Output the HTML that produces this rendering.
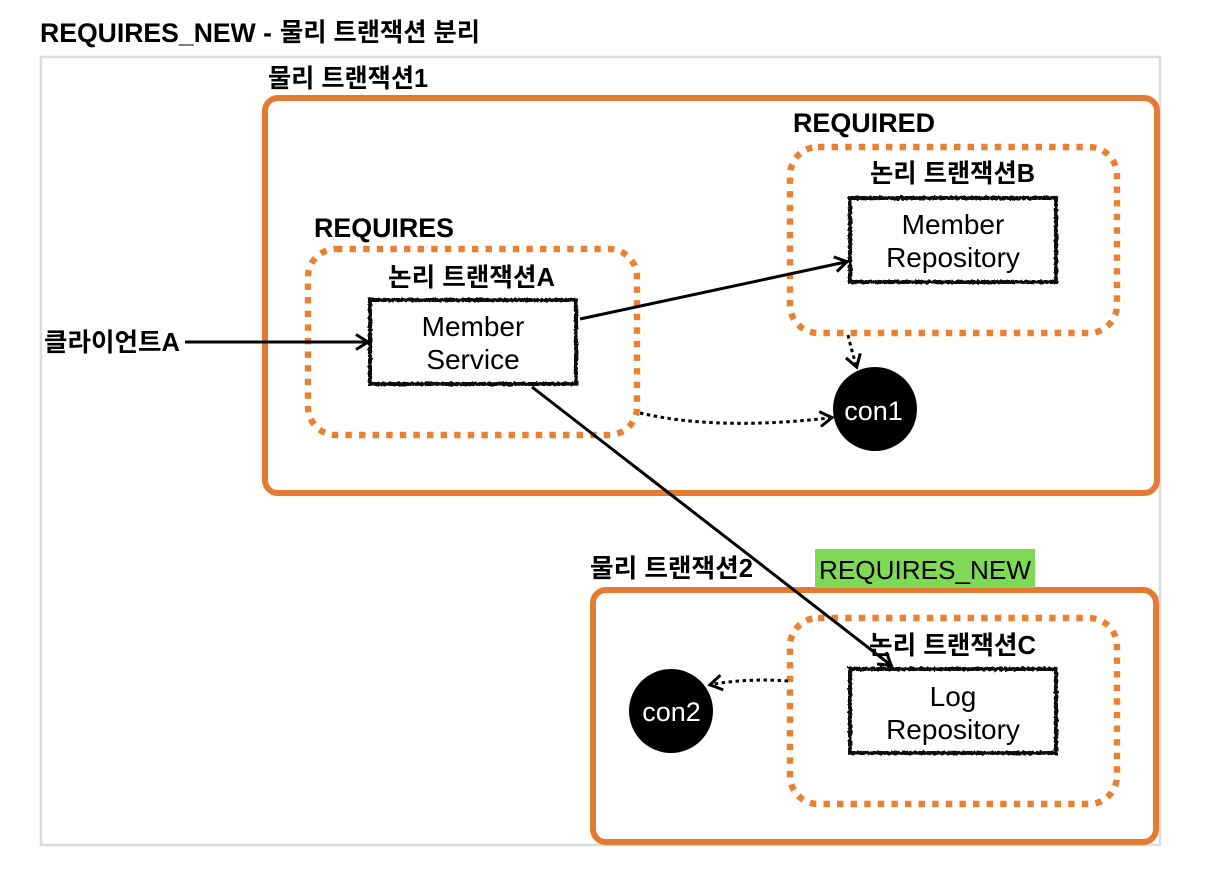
<!DOCTYPE html>
<html lang="ko"><head><meta charset="utf-8">
<style>
html,body{margin:0;padding:0;background:#fff;width:1212px;height:876px;overflow:hidden}
svg{display:block}
text{font-family:"Liberation Sans","Noto Sans CJK KR",sans-serif;fill:#000}
.b{font-weight:700;font-size:25.5px}
.l{font-weight:700;font-size:27px}
.n{font-size:28px;text-anchor:middle}
.w{font-size:27px;text-anchor:middle;fill:#fff}
</style></head><body>
<svg width="1212" height="876" viewBox="0 0 1212 876" xmlns="http://www.w3.org/2000/svg">
<defs>
<marker id="a" markerWidth="20" markerHeight="20" refX="16" refY="10" orient="auto" markerUnits="userSpaceOnUse"><path d="M3 2.5 L15 10 L3 17.5" fill="none" stroke="#000" stroke-width="3"/></marker>
<filter id="r" x="-5%" y="-10%" width="110%" height="120%"><feTurbulence type="fractalNoise" baseFrequency="0.35" numOctaves="2" seed="4" result="t"/><feDisplacementMap in="SourceGraphic" in2="t" scale="3.2"/></filter>
</defs>
<text x="40" y="42" font-size="26.5" font-weight="700" textLength="232" lengthAdjust="spacingAndGlyphs">REQUIRES_NEW -</text>
<text x="280" y="41" font-size="25.5" font-weight="700" textLength="200" lengthAdjust="spacingAndGlyphs">물리 트랜잭션 분리</text>
<rect x="41" y="57" width="1119" height="788" fill="#fff" stroke="#dcdcdc" stroke-width="2.5"/>

<rect x="265" y="98" width="892" height="395" rx="13" fill="none" stroke="#e57b32" stroke-width="6"/>
<rect x="593" y="590" width="563" height="252" rx="13" fill="none" stroke="#e57b32" stroke-width="6"/>

<g fill="none" stroke="#e98131" stroke-width="6.4" stroke-dasharray="6.4 7.2">
<rect x="308" y="249" width="329" height="186" rx="28"/>
<rect x="790" y="147" width="327" height="186" rx="28"/>
<rect x="790" y="618" width="327" height="186" rx="28"/>
</g>

<g fill="#fff" stroke="#111" stroke-width="4" filter="url(#r)">
<rect x="370" y="300" width="206" height="84"/>
<rect x="850" y="198" width="206" height="84"/>
<rect x="850" y="669" width="206" height="84"/>
</g>

<text class="b" x="268" y="87" textLength="160" lengthAdjust="spacingAndGlyphs">물리 트랜잭션1</text>
<text class="l" x="793" y="132" textLength="142" lengthAdjust="spacingAndGlyphs">REQUIRED</text>
<text class="l" x="314" y="237" textLength="140" lengthAdjust="spacingAndGlyphs">REQUIRES</text>
<text class="b" x="388" y="286" textLength="167" lengthAdjust="spacingAndGlyphs">논리 트랜잭션A</text>
<text class="b" x="870" y="182" textLength="165" lengthAdjust="spacingAndGlyphs">논리 트랜잭션B</text>
<text class="b" x="44" y="351" textLength="136" lengthAdjust="spacingAndGlyphs">클라이언트A</text>
<text class="b" x="590" y="577" textLength="163" lengthAdjust="spacingAndGlyphs">물리 트랜잭션2</text>
<rect x="815" y="549" width="220" height="39" fill="#7ed957"/>
<text x="819" y="579" font-size="26" textLength="212" lengthAdjust="spacingAndGlyphs">REQUIRES_NEW</text>
<text class="b" x="869" y="654" textLength="167" lengthAdjust="spacingAndGlyphs">논리 트랜잭션C</text>

<text class="n" x="473" y="336">Member</text>
<text class="n" x="473" y="369">Service</text>
<text class="n" x="953" y="234">Member</text>
<text class="n" x="953" y="267">Repository</text>
<text class="n" x="953" y="706">Log</text>
<text class="n" x="953" y="739">Repository</text>

<circle cx="875" cy="409" r="42" fill="#000"/>
<circle cx="671" cy="711" r="42" fill="#000"/>
<text class="w" x="873.5" y="420" style="fill:#fff">con1</text>
<text class="w" x="671.5" y="721" style="fill:#fff">con2</text>

<g fill="none" stroke="#000" stroke-width="3">
<path d="M185 342 H369" marker-end="url(#a)"/>
<path d="M580 319 L848 261.5" marker-end="url(#a)"/>
<path d="M532 387 L892 666" marker-end="url(#a)"/>
</g>
<g fill="none" stroke="#000" stroke-width="3" stroke-dasharray="3.5 3.5">
<path d="M848 335 Q852 352 857 368" marker-end="url(#a)"/>
<path d="M640 413 C700 427 770 425 833 417.5" marker-end="url(#a)"/>
<path d="M788 681 C762 679 735 680 709 685" marker-end="url(#a)"/>
</g>
</svg>
</body></html>
